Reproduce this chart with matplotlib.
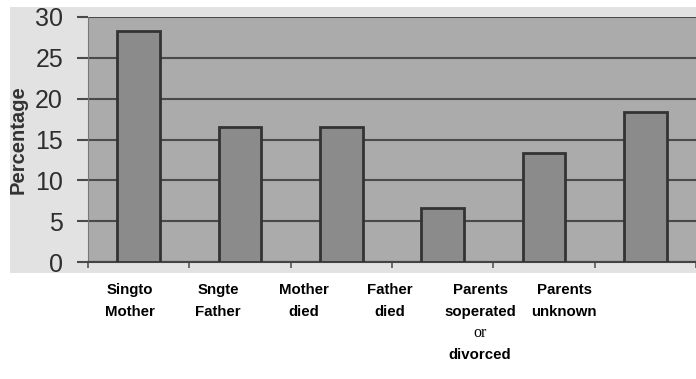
import matplotlib
matplotlib.use("Agg")
import matplotlib.pyplot as plt
from matplotlib.patches import Rectangle
import numpy as np

categories = ["Single Mother", "Single Father", "Mother died", "Father died",
              "Parents separated or divorced", "Parents unknown"]
values = [28.3, 16.5, 16.5, 6.6, 13.3, 18.4]
label_lines = [["Singto", "Mother"], ["Sngte", "Father"], ["Mother", "died"],
               ["Father", "died"], ["Parents", "soperated", "or", "divorced"],
               ["Parents", "unknown"]]
label_x_px = [130, 218, 304, 390, 480, 564]
yticks = [0, 5, 10, 15, 20, 25, 30]

W, H = 696, 379
fig = plt.figure(figsize=(W / 100, H / 100), dpi=100)
fig.patch.set_facecolor("white")

# outer light-gray chart area
bg = fig.add_axes([10 / W, 1 - 273 / H, (W - 10) / W, (273 - 7) / H])
bg.set_axis_off()
bg.add_patch(Rectangle((0, 0), 1, 1, transform=bg.transAxes, facecolor="#e2e2e2",
                       edgecolor="none"))
bg.set_zorder(0)

ax = fig.add_axes([88 / W, 1 - 262 / H, (W - 88) / W, 245 / H])
ax.set_zorder(1)
ax.set_facecolor("#ababab")
x = np.arange(len(categories))
ax.bar(x, values, width=0.42, color="#8b8b8b", edgecolor="#333333", linewidth=2.0, zorder=3)
ax.set_xlim(-0.5, 5.41)
ax.set_ylim(0, 30)
ax.set_yticks(yticks)
ax.set_yticklabels([str(t) for t in yticks], fontsize=18, color="#2e2e2e",
                   family="Liberation Sans")
ax.yaxis.grid(True, color="#4a4a4a", linewidth=1.5, zorder=1)
ax.set_axisbelow(True)
ax.tick_params(axis="y", length=8, width=1.5, color="#4a4a4a", pad=10)
ax.set_xticks(np.arange(-0.5, 6, 1.0))
ax.set_xticklabels([])
ax.tick_params(axis="x", length=4, width=1.2, color="#555555")
for s in ["top", "right"]:
    ax.spines[s].set_visible(False)
ax.spines["left"].set_color("#777777")
ax.spines["bottom"].set_color("#444444")
ax.spines["bottom"].set_linewidth(1.5)

fig.text(18 / W, 1 - 140 / H, "Percentage", rotation=90, ha="center", va="center",
         fontsize=14.5, fontweight="bold", color="#333333", family="Liberation Sans")

line_y_px = [290, 312, 333, 355]
for lines, xp in zip(label_lines, label_x_px):
    for j, ln in enumerate(lines):
        if ln == "or":
            fig.text(xp / W, 1 - line_y_px[j] / H, ln, ha="center", va="center",
                     fontsize=11.5, family="Liberation Serif", color="black")
        else:
            fig.text(xp / W, 1 - line_y_px[j] / H, ln, ha="center", va="center",
                     fontsize=10.8, fontweight="bold", family="Liberation Sans",
                     color="black")

fig.savefig("out.png", dpi=100)
